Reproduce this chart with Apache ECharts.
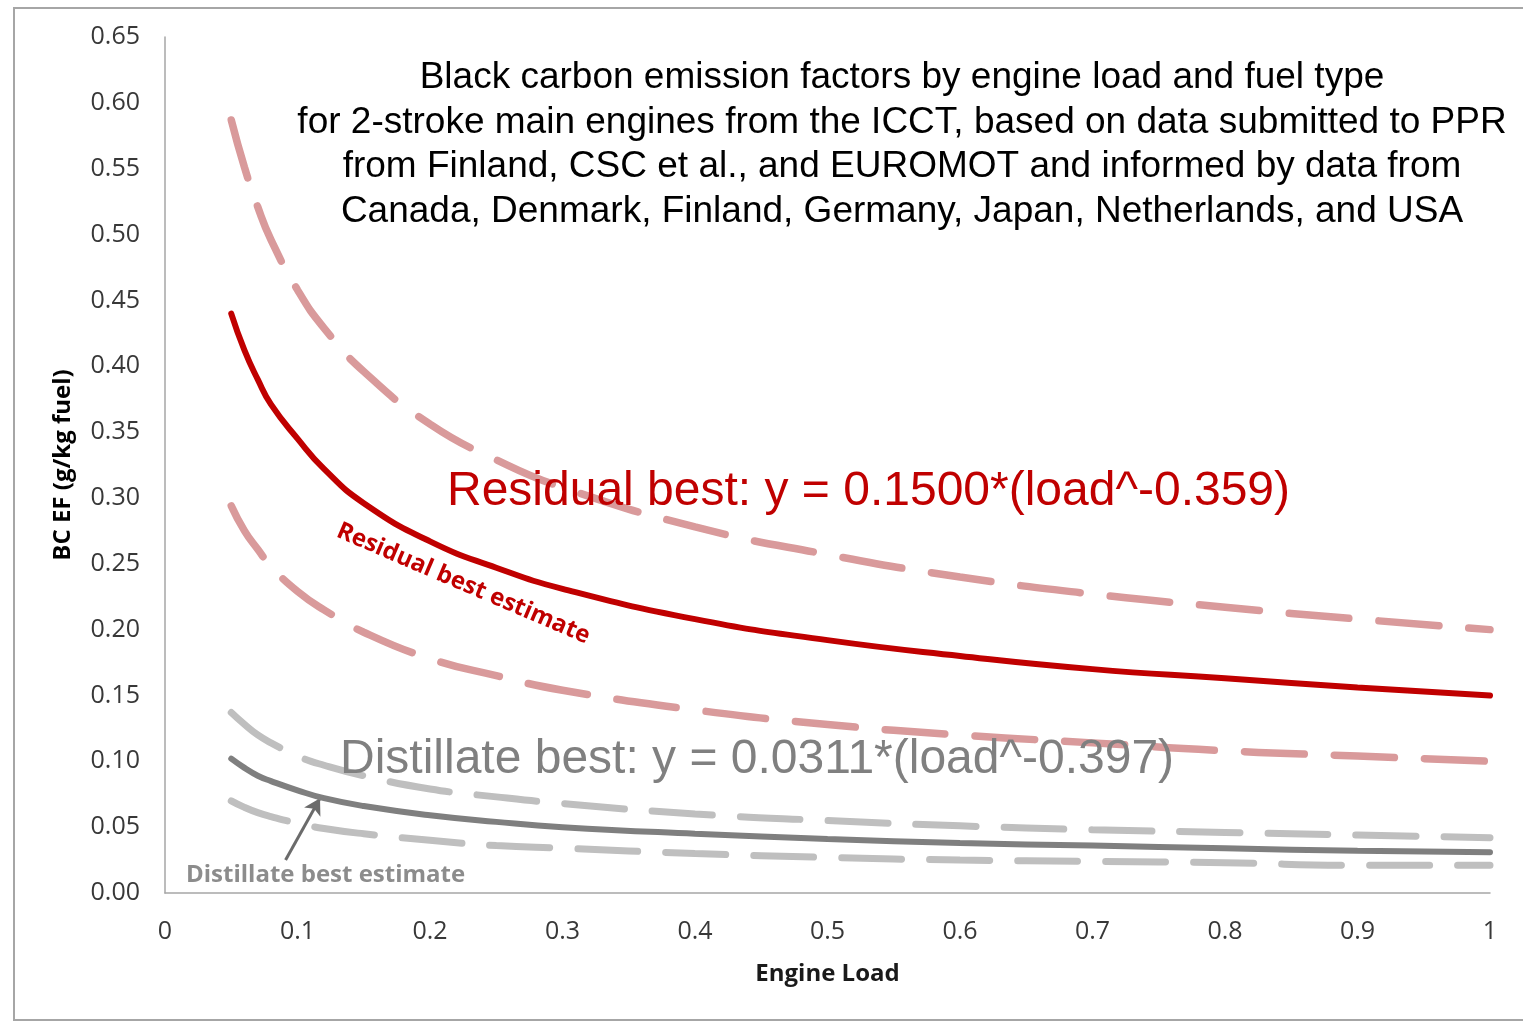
<!DOCTYPE html>
<html>
<head>
<meta charset="utf-8">
<script src="https://cdn.jsdelivr.net/npm/echarts@6/dist/echarts.min.js"></script>
<style>
  html, body { margin: 0; padding: 0; background: #fff; }
  #main { width: 1523px; height: 1022px; }
</style>
</head>
<body>
<div id="main"></div>
<script>
// engine load (x) sample points
var loads = [0.05, 0.06, 0.07, 0.08, 0.1, 0.12, 0.15, 0.2, 0.25, 0.3, 0.4, 0.5, 0.6, 0.7, 0.8, 0.9, 1.0]
// residual fuel: best estimate and the upper / lower dashed bands
var residualBest  = [0.440, 0.412, 0.390, 0.371, 0.345, 0.322, 0.296, 0.267, 0.247, 0.231, 0.208, 0.192, 0.180, 0.170, 0.163, 0.156, 0.150]
var residualHigh  = [0.587, 0.551, 0.521, 0.496, 0.458, 0.429, 0.396, 0.356, 0.329, 0.308, 0.278, 0.257, 0.240, 0.227, 0.217, 0.208, 0.200]
var residualLow   = [0.294, 0.275, 0.261, 0.248, 0.229, 0.215, 0.198, 0.178, 0.165, 0.154, 0.139, 0.128, 0.120, 0.114, 0.108, 0.104, 0.100]
// distillate fuel
var distBest      = [0.102, 0.095, 0.089, 0.085, 0.078, 0.072, 0.066, 0.059, 0.054, 0.050, 0.045, 0.041, 0.038, 0.036, 0.034, 0.032, 0.031]
var distHigh      = [0.137, 0.128, 0.120, 0.114, 0.104, 0.097, 0.089, 0.079, 0.073, 0.068, 0.060, 0.055, 0.051, 0.048, 0.046, 0.044, 0.042]
var distLow       = [0.070, 0.065, 0.061, 0.058, 0.053, 0.049, 0.045, 0.040, 0.036, 0.034, 0.030, 0.027, 0.025, 0.024, 0.023, 0.021, 0.021]

var titleLines = [
    'Black carbon emission factors by engine load and fuel type',
    'for 2-stroke main engines from the ICCT, based on data submitted to PPR',
    'from Finland, CSC et al., and EUROMOT and informed by data from',
    'Canada, Denmark, Finland, Germany, Japan, Netherlands, and USA'
]

function pairs(ys){
    var out = []
    for(var i=0;i<loads.length;i++){
        out.push([loads[i], ys[i]])
    }
    return out
}

function line(ys, color, width, dash, z){
    return {
        type: 'line',
        data: pairs(ys),
        symbol: 'none',
        smooth: 0.5,
        z: z,
        lineStyle: { color: color, width: width, type: dash || 'solid', cap: 'round' }
    }
}

var myChart = echarts.init(document.getElementById('main'))
var axisFont = 'Open Sans, Liberation Sans, sans-serif'
var textFont = 'Liberation Sans, Arial, sans-serif'

var distSeries = line(distBest, '#7f7f7f', 6, null, 5)
// arrow pointing at the distillate curve
distSeries.markLine = {
    silent: true,
    symbol: ['none', 'arrow'],
    symbolSize: [14, 16],
    label: { show: false },
    lineStyle: { color: '#6b6b6b', width: 3, type: 'solid' },
    data: [[ { coord: [0.091, 0.025] }, { coord: [0.117, 0.072] } ]]
}

var option = {
    animation: false,
    grid: { left: 165, right: 33, top: 37, bottom: 129, containLabel: false },
    xAxis: {
        type: 'value',
        min: 0, max: 1, interval: 0.1,
        name: 'Engine Load',
        nameLocation: 'middle',
        nameGap: 69,
        nameTextStyle: { color: '#1a1a1a', fontSize: 24, fontWeight: 'bold', fontFamily: axisFont },
        axisLine: { show: true, lineStyle: { color: '#a6a6a6', width: 1.5 } },
        axisTick: { show: false },
        splitLine: { show: false },
        axisLabel: {
            margin: 26,
            color: '#383838', fontSize: 25, fontFamily: axisFont,
            formatter: function(v){ return (v === 0 || v === 1) ? String(v) : v.toFixed(1) }
        }
    },
    yAxis: {
        type: 'value',
        min: 0, max: 0.65, interval: 0.05,
        name: 'BC EF (g/kg fuel)',
        nameLocation: 'middle',
        nameGap: 90,
        nameTextStyle: { color: '#000', fontSize: 24, fontWeight: 'bold', fontFamily: axisFont },
        axisLine: { show: true, lineStyle: { color: '#a6a6a6', width: 1.5 } },
        axisTick: { show: false },
        splitLine: { show: false },
        axisLabel: {
            margin: 25,
            color: '#383838', fontSize: 25, fontFamily: axisFont,
            formatter: function(v){ return v.toFixed(2) }
        }
    },
    series: [
        line(residualHigh, '#d99a9b', 7.5, [60, 30], 2),
        line(residualLow, '#d99a9b', 7.5, [60, 30], 2),
        line(residualBest, '#c00000', 6, null, 4),
        line(distHigh, '#bfbfbf', 7, [60, 28], 2),
        line(distLow, '#bfbfbf', 7, [60, 28], 2),
        distSeries
    ],
    graphic: [
        {
            type: 'rect', z: -1, silent: true,
            shape: { x: 14, y: 8, width: 1600, height: 1012 },
            style: { fill: 'none', stroke: '#a6a6a6', lineWidth: 2 }
        },
        {
            type: 'text', silent: true, z: 10,
            position: [902, 56],
            style: {
                text: titleLines.join('\n'),
                align: 'center',
                fill: '#000', fontSize: 37, lineHeight: 44.5,
                fontFamily: textFont
            }
        },
        {
            type: 'text', silent: true, z: 10,
            position: [447, 492],
            style: {
                text: 'Residual best: y = 0.1500*(load^-0.359)',
                fill: '#c00000', fontSize: 48, verticalAlign: 'middle',
                fontFamily: textFont
            }
        },
        {
            type: 'text', silent: true, z: 10,
            position: [340, 760],
            style: {
                text: 'Distillate best: y = 0.0311*(load^-0.397)',
                fill: '#808080', fontSize: 48, verticalAlign: 'middle',
                fontFamily: textFont
            }
        },
        {
            type: 'text', silent: true, z: 10,
            position: [338, 530],
            rotation: -0.405,
            style: {
                text: 'Residual best estimate',
                fill: '#c00000', fontSize: 24, fontWeight: 'bold',
                verticalAlign: 'middle',
                fontFamily: axisFont
            }
        },
        {
            type: 'text', silent: true, z: 10,
            position: [186, 875],
            style: {
                text: 'Distillate best estimate',
                fill: '#8c8c8c', fontSize: 24, fontWeight: 'bold',
                verticalAlign: 'middle',
                fontFamily: axisFont
            }
        }
    ]
}

myChart.setOption(option)
</script>
</body>
</html>
